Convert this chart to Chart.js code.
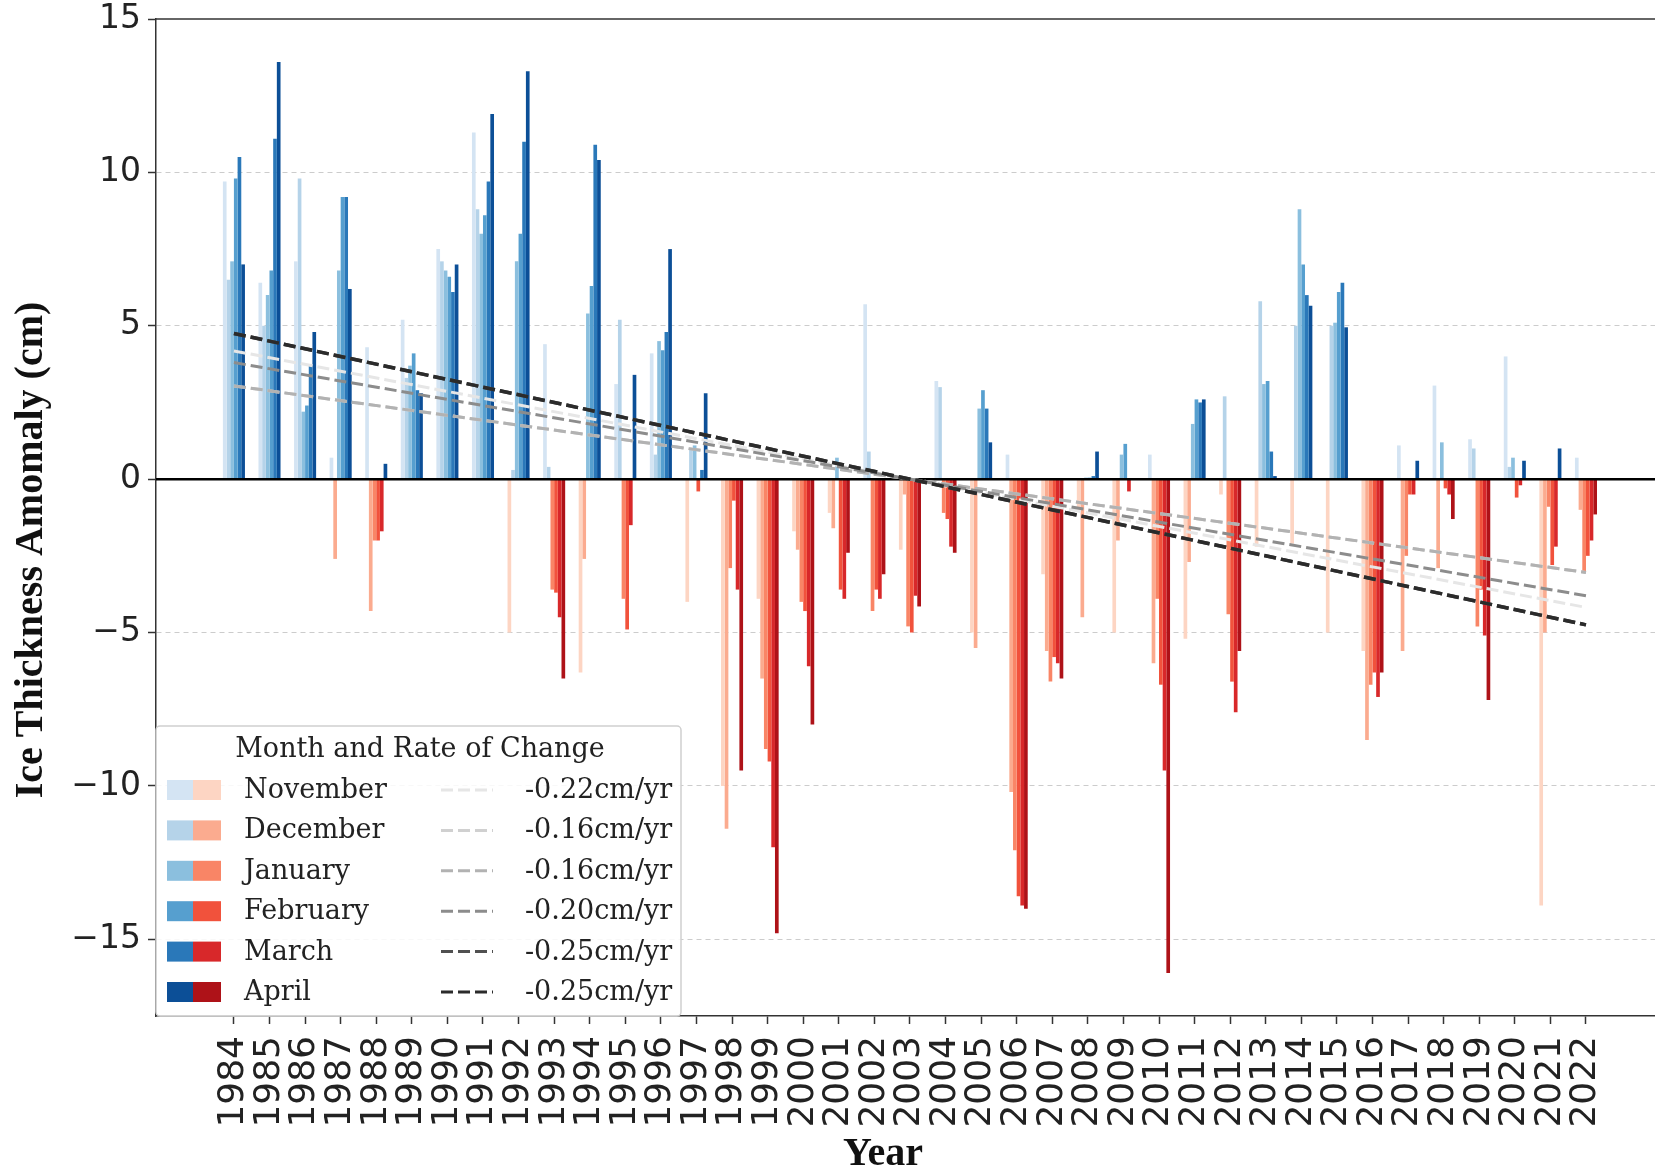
<!DOCTYPE html>
<html>
<head>
<meta charset="utf-8">
<script src="https://cdn.jsdelivr.net/npm/chart.js@4.4.1/dist/chart.umd.min.js"></script>
<style>
html,body{margin:0;padding:0;background:#fff;}
#wrap{width:1655px;height:1173px;position:relative;}
</style>
</head>
<body>
<div id="wrap"><canvas id="c" width="1655" height="1173"></canvas></div>
<script>
// ---- data ----
const years = [1984,1985,1986,1987,1988,1989,1990,1991,1992,1993,1994,1995,1996,1997,1998,1999,2000,2001,2002,2003,2004,2005,2006,2007,2008,2009,2010,2011,2012,2013,2014,2015,2016,2017,2018,2019,2020,2021,2022];
const months = ['November','December','January','February','March','April'];
const novData = [9.7,6.4,7.1,0.7,4.3,5.2,7.5,11.3,-5.0,4.4,-6.3,3.1,4.1,-4.0,-10.0,-3.9,-1.7,-1.1,5.7,-2.3,3.2,-5.0,0.8,-3.1,-1.0,-5.0,0.8,-5.2,-0.5,-2.2,-2.1,-5.0,-5.6,1.1,3.05,1.3,4.0,-13.9,0.7];
const decData = [6.5,5.0,9.8,-2.6,-4.3,3.3,7.1,8.8,0.3,0.4,-2.6,5.2,0.8,1.0,-11.4,-6.5,-2.3,-1.6,0.9,-0.5,3.0,-5.5,-10.2,-5.6,-4.5,-2.0,-6.0,-2.7,2.7,5.8,5.0,5.0,-8.5,-5.6,-2.9,1.0,0.4,-5.0,-1.0];
const janData = [7.1,6.0,2.2,6.8,-2.0,3.7,6.8,8.0,7.1,-3.6,5.4,-3.9,4.5,1.1,-2.9,-8.8,-4.0,0.7,-4.3,-4.8,-1.1,2.3,-12.1,-6.6,0.05,0.8,-3.9,1.8,-4.4,3.1,8.8,5.1,-6.7,-2.5,1.2,-4.8,0.7,-0.9,-3.0];
const febData = [9.8,6.8,2.4,9.2,-2.0,4.1,6.6,8.6,8.0,-3.7,6.3,-4.9,4.2,-0.4,-0.7,-9.2,-4.3,-3.6,-3.6,-5.0,-1.3,2.9,-13.6,-5.8,0.05,1.15,-6.7,2.6,-6.6,3.2,7.0,6.1,-6.3,-0.5,-0.3,-3.6,-0.6,-2.8,-2.5];
const marData = [10.5,11.1,3.7,9.2,-1.7,2.9,6.1,9.7,11.0,-4.5,10.9,-1.5,4.8,0.3,-3.6,-12.0,-6.1,-3.9,-3.9,-3.8,-2.2,2.3,-13.9,-6.0,0.1,-0.4,-9.5,2.5,-7.6,0.9,6.0,6.4,-7.1,-0.5,-0.5,-5.1,-0.2,-2.2,-2.0];
const aprData = [7.0,13.6,4.8,6.2,0.5,2.8,7.0,11.9,13.3,-6.5,10.4,3.4,7.5,2.8,-9.5,-14.8,-8.0,-2.4,-3.1,-4.15,-2.4,1.2,-14.0,-6.5,0.9,0.0,-16.1,2.6,-5.6,0.1,5.65,4.95,-6.3,0.6,-1.3,-7.2,0.6,1.0,-1.15];
const rates = [-0.22,-0.16,-0.16,-0.20,-0.25,-0.25];
const rateLabels = ['-0.22cm/yr','-0.16cm/yr','-0.16cm/yr','-0.20cm/yr','-0.25cm/yr','-0.25cm/yr'];
const yTicks = [-15,-10,-5,0,5,10,15];
const series = [novData, decData, janData, febData, marData, aprData];

// ---- styles ----
const blues = ['#d4e4f3','#b5d3e9','#8bbfde','#569fcf','#2a78b9','#0c4f97'];
const reds  = ['#fdd5c3','#fbab8f','#f98566','#f1523c','#d8282a','#ae1218'];
const greys = ['#e6e6e6','#d0d0d0','#b2b2b2','#8c8c8c','#505050','#2b2b2b'];
const serif = '"DejaVu Serif", serif';
const bold = '"Liberation Serif", "Times New Roman", serif';
const sans = '"DejaVu Sans", sans-serif';

const mid = years.reduce((a, b) => a + b, 0) / years.length;

const barSets = series.map((vals, i) => ({
  type: 'bar',
  label: months[i],
  data: years.map((yr, k) => ({x: yr, y: vals[k]})),
  backgroundColor: ctx => (ctx.raw && ctx.raw.y < 0) ? reds[i] : blues[i],
  borderWidth: 0,
  categoryPercentage: 0.62,
  barPercentage: 1.0,
  order: 2
}));
const lineSets = rates.map((r, i) => ({
  type: 'line',
  label: rateLabels[i],
  data: [years[0], years[years.length - 1]].map(x => ({x: x, y: r * (x - mid)})),
  borderColor: greys[i],
  borderWidth: i >= 4 ? 3.5 : 3,
  borderDash: [12, 5],
  pointRadius: 0,
  fill: false,
  order: 1 + (5 - i) * 0.1
}));

const extras = {
  id: 'extras',
  afterDatasetDraw(chart, args) {
    if (args.meta.type !== 'bar' || args.index !== 0) return;
    const {ctx, chartArea: a, scales: {y}} = chart;
    const y0 = y.getPixelForValue(0);
    ctx.save();
    ctx.strokeStyle = '#000';
    ctx.lineWidth = 2.5;
    ctx.beginPath(); ctx.moveTo(a.left, y0); ctx.lineTo(a.right, y0); ctx.stroke();
    ctx.restore();
  },
  afterDraw(chart) {
    const {ctx, chartArea: a} = chart;
    ctx.save();
    // top spine
    ctx.strokeStyle = '#333'; ctx.lineWidth = 1.5;
    ctx.beginPath(); ctx.moveTo(a.left, a.top); ctx.lineTo(a.right, a.top); ctx.stroke();
    // axis titles
    ctx.fillStyle = '#111';
    ctx.font = 'bold 40px ' + bold;
    ctx.textAlign = 'center'; ctx.textBaseline = 'middle';
    ctx.fillText('Year', 883, 1155);
    ctx.save();
    ctx.translate(32, 550); ctx.rotate(-Math.PI / 2);
    ctx.fillText('Ice Thickness Amomaly (cm)', 0, 0);
    ctx.restore();
    // legend
    const L = {x: a.left, y: 726, w: 525, h: a.bottom - 726};
    ctx.fillStyle = 'rgba(255,255,255,0.85)';
    ctx.strokeStyle = '#cfcfcf'; ctx.lineWidth = 1.5;
    ctx.beginPath();
    if (ctx.roundRect) ctx.roundRect(L.x, L.y, L.w, L.h, 4); else ctx.rect(L.x, L.y, L.w, L.h);
    ctx.fill(); ctx.stroke();
    ctx.fillStyle = '#222';
    ctx.font = '27px ' + serif;
    ctx.textAlign = 'center'; ctx.textBaseline = 'middle';
    ctx.fillText('Month and Rate of Change', L.x + 264, 750);
    ctx.textAlign = 'left';
    for (let i = 0; i < months.length; i++) {
      const cy = 790 + i * 40.4;
      ctx.fillStyle = blues[i]; ctx.fillRect(L.x + 11, cy - 10, 26, 20);
      ctx.fillStyle = reds[i]; ctx.fillRect(L.x + 37, cy - 10, 28, 20);
      ctx.fillStyle = '#222';
      ctx.fillText(months[i], L.x + 88, cy + 1);
      ctx.strokeStyle = greys[i]; ctx.lineWidth = 3; ctx.setLineDash([12, 5]);
      ctx.beginPath(); ctx.moveTo(L.x + 285, cy); ctx.lineTo(L.x + 337, cy); ctx.stroke();
      ctx.setLineDash([]);
      ctx.fillText(rateLabels[i], L.x + 369, cy + 1);
    }
    ctx.restore();
  }
};

new Chart(document.getElementById('c'), {
  type: 'bar',
  data: {datasets: [...barSets, ...lineSets]},
  options: {
    responsive: false,
    animation: false,
    devicePixelRatio: 1,
    layout: {padding: {left: 0, right: 0, top: 19, bottom: 0}},
    plugins: {legend: {display: false}, tooltip: {enabled: false}, title: {display: false}},
    scales: {
      x: {
        type: 'linear',
        offset: false,
        min: 1981.81,
        max: 2023.94,
        afterBuildTicks: s => { s.ticks = years.map(v => ({value: v})); },
        afterFit: s => { s.height = 157; s.paddingLeft = 0; s.paddingRight = 0; },
        ticks: {
          autoSkip: false, minRotation: 90, maxRotation: 90, padding: 12,
          font: {family: sans, size: 36}, color: '#222',
          callback: v => String(v)
        },
        grid: {offset: false, drawOnChartArea: false, drawTicks: true, tickLength: 8, tickColor: '#333', tickWidth: 1.5},
        border: {display: true, color: '#333', width: 1.5},
        title: {display: false}
      },
      y: {
        min: -17.5,
        max: 15,
        afterBuildTicks: s => { s.ticks = yTicks.map(v => ({value: v})); },
        afterFit: s => { s.width = 156; s.paddingTop = 0; s.paddingBottom = 0; },
        ticks: {
          font: {family: sans, size: 33}, color: '#222', padding: 7,
          callback: v => v < 0 ? '\u2212' + Math.abs(v) : String(v)
        },
        grid: {
          color: ctx => (ctx.tick && (ctx.tick.value === 0 || ctx.tick.value === 15)) ? 'rgba(0,0,0,0)' : '#cccccc',
          lineWidth: 1, drawTicks: true, tickLength: 8, tickColor: '#333', tickWidth: 1.5
        },
        border: {display: true, color: '#333', width: 1.5, dash: [5, 4]},
        title: {display: false}
      }
    }
  },
  plugins: [extras]
});
</script>
</body>
</html>
